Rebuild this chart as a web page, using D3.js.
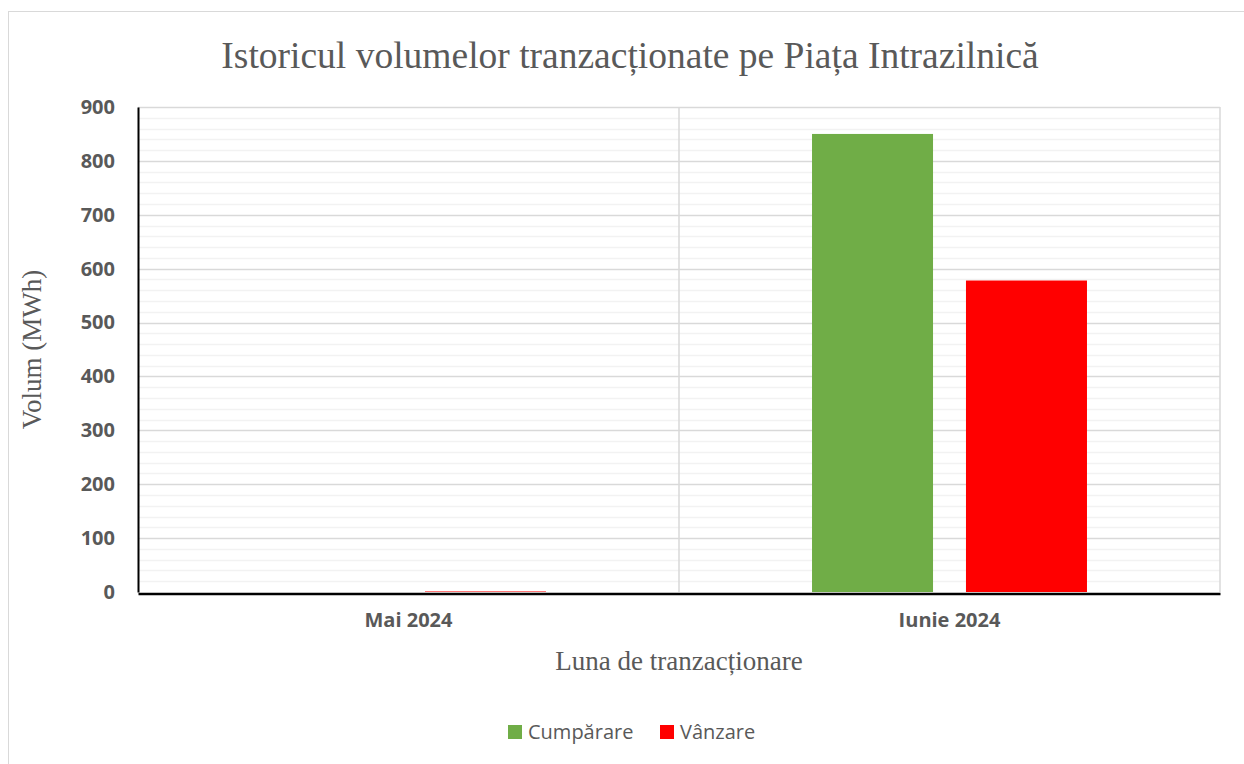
<!DOCTYPE html>
<html>
<head>
<meta charset="utf-8">
<script src="https://cdn.jsdelivr.net/npm/d3@7"></script>
<style>
  body { margin: 0; background: #fff; }
</style>
</head>
<body>
<div id="chart"></div>
<script>
// chart data
const categories = ['Mai 2024', 'Iunie 2024']
const seriesNames = ['Cumpărare', 'Vânzare']
const cumparare = [0, 850]
const vanzare = [1, 578]
const yTicks = [0, 100, 200, 300, 400, 500, 600, 700, 800, 900]

const colors = { 'Cumpărare': '#70ad47', 'Vânzare': '#ff0000' }

// building rows from the arrays
let rows = []
categories.forEach((c, i) => {
   rows.push({ cat: c, series: 'Cumpărare', value: cumparare[i] })
   rows.push({ cat: c, series: 'Vânzare', value: vanzare[i] })
})

let W = 1244, H = 764
let margin = { top: 107, right: 24, bottom: 172, left: 138 }
let width = W - margin.left - margin.right
let height = H - margin.top - margin.bottom

let svg = d3.select('#chart')
   .append('svg')
      .attr('width', W)
      .attr('height', H)

// outer chart border
svg.append('rect')
   .attr('x', 8.5)
   .attr('y', 11.5)
   .attr('width', W + 20)
   .attr('height', H + 20)
   .attr('fill', 'none')
   .attr('stroke', '#d9d9d9')

let g = svg.append('g')
   .attr('transform', 'translate(' + margin.left + ',' + margin.top + ')')

let xScale = d3.scaleBand()
   .domain(categories)
   .range([0, width])

let xSub = d3.scaleBand()
   .domain(seriesNames)
   .range([0, xScale.bandwidth()])
   .paddingInner(0.214)
   .paddingOuter(0.864)

let yScale = d3.scaleLinear()
   .domain([0, 900])
   .range([height, 0])

// minor gridlines
g.append('g')
   .selectAll('line')
   .data(d3.range(20, 900, 20).filter(v => v % 100 !== 0))
   .enter().append('line')
      .attr('x1', 0)
      .attr('x2', width)
      .attr('y1', d => Math.round(yScale(d)) + 0.5)
      .attr('y2', d => Math.round(yScale(d)) + 0.5)
      .attr('stroke', '#f2f2f2')
      .attr('stroke-width', 1.5)

// major gridlines
g.append('g')
   .selectAll('line')
   .data(yTicks.filter(v => v > 0))
   .enter().append('line')
      .attr('x1', 0)
      .attr('x2', width)
      .attr('y1', d => Math.round(yScale(d)) + 0.5)
      .attr('y2', d => Math.round(yScale(d)) + 0.5)
      .attr('stroke', '#d9d9d9')
      .attr('stroke-width', 1.5)

// vertical gridlines between categories and at the right edge
g.append('g')
   .selectAll('line')
   .data(categories)
   .enter().append('line')
      .attr('x1', d => xScale(d) + xScale.bandwidth())
      .attr('x2', d => xScale(d) + xScale.bandwidth())
      .attr('y1', 0)
      .attr('y2', height)
      .attr('stroke', '#d9d9d9')
      .attr('stroke-width', 1.5)

// bars
g.selectAll('.bar')
      .data(rows)
   .enter().append('rect')
      .attr('class', 'bar')
      .attr('x', d => xScale(d.cat) + xSub(d.series))
      .attr('width', xSub.bandwidth())
      .attr('y', d => yScale(d.value))
      .attr('height', d => height - yScale(d.value))
      .attr('fill', d => colors[d.series])

// y axis
let yAxis = g.append('g')
   .call(d3.axisLeft(yScale).tickValues(yTicks).tickSize(0).tickPadding(23))
yAxis.select('.domain').attr('stroke', '#000').attr('stroke-width', 2)
yAxis.selectAll('text')
   .style('font-family', 'Open Sans')
   .style('font-weight', 700)
   .style('font-size', '20px')
   .attr('fill', '#595959')

// x axis
let xAxis = g.append('g')
   .attr('transform', 'translate(0,' + (height + 1.5) + ')')
   .call(d3.axisBottom(xScale).tickSize(0).tickPadding(19.5))
xAxis.select('.domain').attr('stroke', '#000').attr('stroke-width', 2.5)
xAxis.selectAll('text')
   .style('font-family', 'Open Sans')
   .style('font-weight', 700)
   .style('font-size', '20px')
   .attr('fill', '#595959')

// title
svg.append('text')
   .attr('x', 630)
   .attr('y', 68)
   .attr('text-anchor', 'middle')
   .style('font-family', 'Liberation Serif')
   .style('font-size', '37.5px')
   .attr('fill', '#595959')
   .text('Istoricul volumelor tranzacționate pe Piața Intrazilnică')

// axis titles
svg.append('text')
   .attr('x', margin.left + width / 2)
   .attr('y', 670)
   .attr('text-anchor', 'middle')
   .style('font-family', 'Liberation Serif')
   .style('font-size', '27px')
   .attr('fill', '#595959')
   .text('Luna de tranzacționare')

svg.append('text')
   .attr('transform', 'translate(41,' + (margin.top + height / 2) + ') rotate(-90)')
   .attr('text-anchor', 'middle')
   .style('font-family', 'Liberation Serif')
   .style('font-size', '27px')
   .attr('fill', '#595959')
   .text('Volum (MWh)')

// legend
let legendX = [508, 660]
let legend = svg.selectAll('.legend')
      .data(seriesNames)
   .enter().append('g')
      .attr('class', 'legend')
      .attr('transform', (d, i) => 'translate(' + legendX[i] + ',725)')
legend.append('rect')
   .attr('width', 14)
   .attr('height', 14)
   .attr('fill', d => colors[d])
legend.append('text')
   .attr('x', 20)
   .attr('y', 14)
   .style('font-family', 'Open Sans')
   .style('font-size', '20px')
   .attr('fill', '#595959')
   .text(d => d)
</script>
</body>
</html>
